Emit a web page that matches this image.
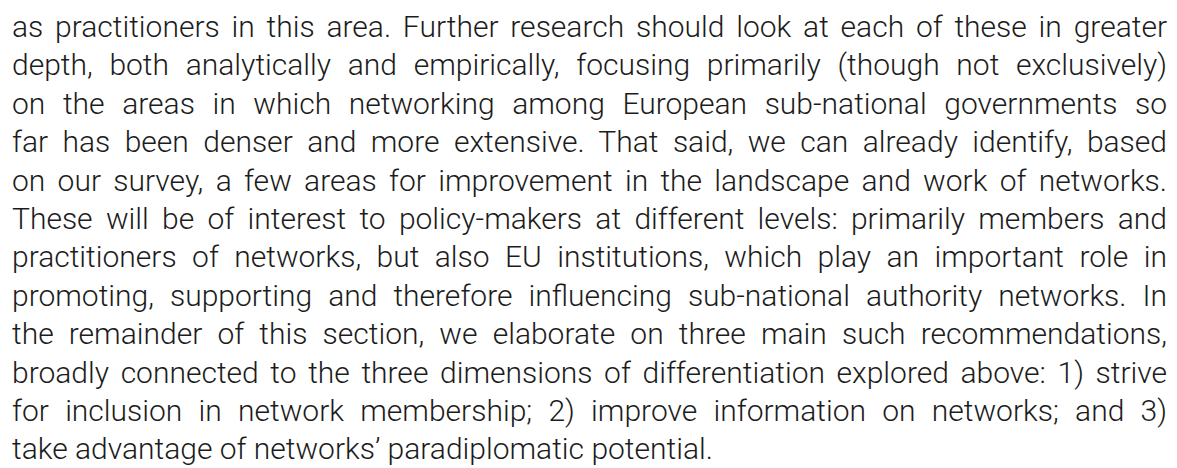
<!DOCTYPE html>
<html>
<head>
<meta charset="utf-8">
<script src="https://cdn.jsdelivr.net/npm/chart.js@4"></script>
<style>
  html, body { margin: 0; padding: 0; background: #ffffff; }
  body { width: 1177px; height: 468px; overflow: hidden; }
  #page {
    position: absolute;
    left: 12px;
    top: 8px;
    width: 1155px;
    font-family: 'Roboto', sans-serif;
    font-weight: 300;
    font-size: 30px;
    line-height: 38.4px;
    color: #1c1c1c;
  }
  .ln { text-align: justify; text-align-last: justify; white-space: nowrap; }
  .ln.last { text-align-last: left; }
</style>
</head>
<body>
<div id="page"></div>
<script>
// Paragraph lines as set in the reference
const lines = [
  "as practitioners in this area. Further research should look at each of these in greater",
  "depth, both analytically and empirically, focusing primarily (though not exclusively)",
  "on the areas in which networking among European sub-national governments so",
  "far has been denser and more extensive. That said, we can already identify, based",
  "on our survey, a few areas for improvement in the landscape and work of networks.",
  "These will be of interest to policy-makers at different levels: primarily members and",
  "practitioners of networks, but also EU institutions, which play an important role in",
  "promoting, supporting and therefore influencing sub-national authority networks. In",
  "the remainder of this section, we elaborate on three main such recommendations,",
  "broadly connected to the three dimensions of differentiation explored above: 1) strive",
  "for inclusion in network membership; 2) improve information on networks; and 3)",
  "take advantage of networks\u2019 paradiplomatic potential."
];

const page = document.getElementById("page");
lines.forEach(function(text, i) {
  const div = document.createElement("div");
  div.className = "ln" + (i === lines.length - 1 ? " last" : "");
  div.textContent = text;
  page.appendChild(div);
});
</script>
</body>
</html>
